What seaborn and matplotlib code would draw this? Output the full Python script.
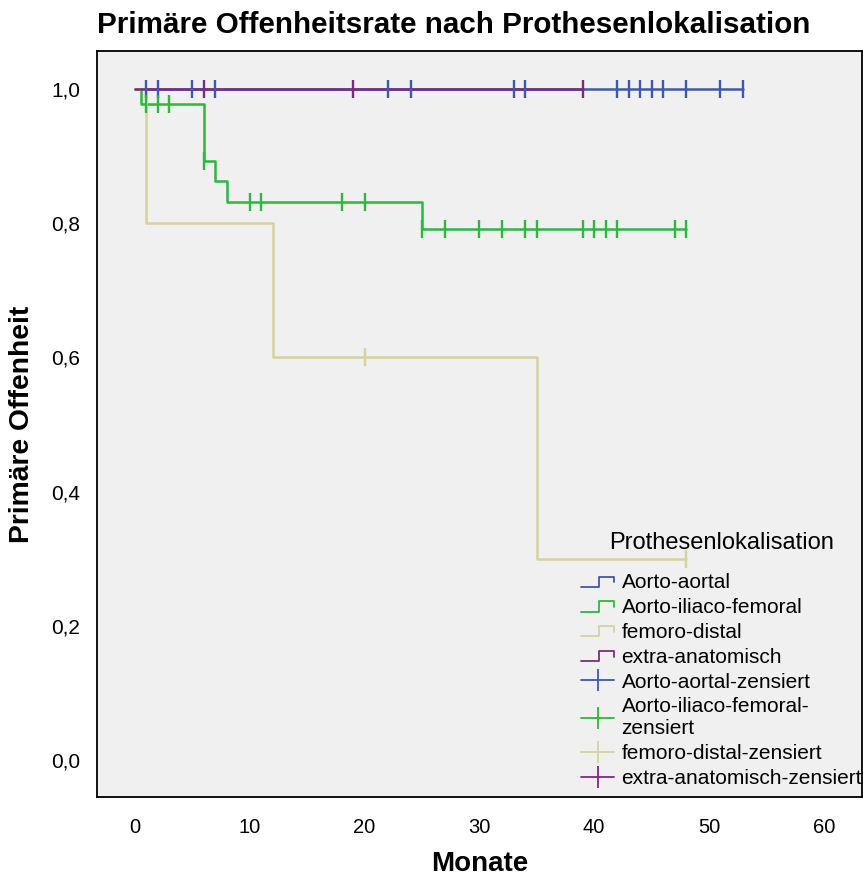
import numpy as np
import pandas as pd
import matplotlib
matplotlib.use("Agg")
import matplotlib.pyplot as plt
import seaborn as sns
from matplotlib.lines import Line2D
from matplotlib.legend_handler import HandlerBase

sns.set_style("white")
plt.rcParams["font.family"] = ["Liberation Sans", "DejaVu Sans"]
plt.rcParams["text.color"] = "black"
plt.rcParams["axes.labelcolor"] = "black"
plt.rcParams["xtick.color"] = "black"
plt.rcParams["ytick.color"] = "black"

# ---- data ----
groups = ["Aorto-aortal", "Aorto-iliaco-femoral", "femoro-distal", "extra-anatomisch"]
colors = ["#3e58ac", "#2db83d", "#d6d29c", "#7b2a80"]

aa_step_t = [0]
aa_step_s = [1.0]
aa_end = 53
aa_cens = [1, 2, 5, 7, 22, 24, 33, 34, 42, 43, 44, 45, 46, 48, 51, 53]

aif_step_t = [0, 0.5, 6, 7, 8, 25]
aif_step_s = [1.0, 0.977, 0.893, 0.863, 0.832, 0.792]
aif_end = 48
aif_cens = [1, 2, 3, 6, 10, 11, 18, 20, 25, 27, 30, 32, 34, 35, 39, 40, 41, 42, 47, 48]

fd_step_t = [0, 1, 12, 35]
fd_step_s = [1.0, 0.8, 0.6, 0.3]
fd_end = 48
fd_cens = [20, 48]

ea_step_t = [0]
ea_step_s = [1.0]
ea_end = 39
ea_cens = [6, 19, 39]

x_ticks = [0, 10, 20, 30, 40, 50, 60]
y_ticks = [0.0, 0.2, 0.4, 0.6, 0.8, 1.0]
y_tick_labels = ["0,0", "0,2", "0,4", "0,6", "0,8", "1,0"]

legend_labels = [
    "Aorto-aortal", "Aorto-iliaco-femoral", "femoro-distal", "extra-anatomisch",
    "Aorto-aortal-zensiert", "Aorto-iliaco-femoral-\nzensiert",
    "femoro-distal-zensiert", "extra-anatomisch-zensiert",
]

series = [
    (aa_step_t, aa_step_s, aa_end, aa_cens),
    (aif_step_t, aif_step_s, aif_end, aif_cens),
    (fd_step_t, fd_step_s, fd_end, fd_cens),
    (ea_step_t, ea_step_s, ea_end, ea_cens),
]

line_rows, cens_rows = [], []
for g, (st, ss, end, cens) in zip(groups, series):
    for t, s in zip(list(st) + [end], list(ss) + [ss[-1]]):
        line_rows.append({"t": t, "s": s, "g": g})
    st_arr = np.asarray(st, dtype=float)
    for c in cens:
        idx = np.searchsorted(st_arr, c, side="right") - 1
        cens_rows.append({"t": c, "s": ss[idx], "g": g})
line_df = pd.DataFrame(line_rows)
cens_df = pd.DataFrame(cens_rows)

# ---- figure ----
fig = plt.figure(figsize=(8.63, 8.8), dpi=100)
fig.patch.set_facecolor("white")
ax = fig.add_axes([97 / 863, 1 - 797 / 880, (862 - 97) / 863, (797 - 51) / 880])
ax.set_facecolor("#f0f0f0")

pal = dict(zip(groups, colors))
sns.lineplot(data=line_df, x="t", y="s", hue="g", hue_order=groups, palette=pal,
             drawstyle="steps-post", estimator=None, sort=False, legend=False,
             linewidth=1.8, ax=ax)
sns.scatterplot(data=cens_df, x="t", y="s", hue="g", hue_order=groups, palette=pal,
                marker="|", s=170, linewidth=1.7, legend=False, zorder=3, ax=ax)

ax.set_xlim(-3.31, 63.33)
ax.set_ylim(-0.0551, 1.0566)
ax.set_xticks(x_ticks)
ax.set_xticklabels([str(v) for v in x_ticks])
ax.set_yticks(y_ticks)
ax.set_yticklabels(y_tick_labels)
ax.tick_params(axis="both", which="major", direction="out", length=8, width=1.5,
               color="black", labelcolor="black", pad=4)
ax.tick_params(axis="x", pad=7, labelsize=14.5)
ax.tick_params(axis="y", labelsize=15)
for sp in ax.spines.values():
    sp.set_visible(True)
    sp.set_color("black")
    sp.set_linewidth(1.3)

ax.set_xlabel("Monate", fontsize=20, fontweight="bold", labelpad=10)
ax.set_ylabel("Primäre Offenheit", fontsize=20.3, fontweight="bold", labelpad=12)
ax.set_title("Primäre Offenheitsrate nach Prothesenlokalisation", loc="left",
             fontsize=21.3, fontweight="bold", pad=13)


class StepHandler(HandlerBase):
    def create_artists(self, legend, orig_handle, xdescent, ydescent, width,
                       height, fontsize, trans):
        x0, y0 = -xdescent, -ydescent
        xs = [x0, x0 + 0.55 * width, x0 + 0.55 * width, x0 + width, x0 + width]
        ys = [y0 + 0.1 * height, y0 + 0.1 * height, y0 + 0.8 * height,
              y0 + 0.8 * height, y0 + 0.4 * height]
        ln = Line2D(xs, ys, color=orig_handle.get_color(), lw=1.3)
        ln.set_transform(trans)
        return [ln]


step_handles = [Line2D([], [], color=c, lw=1.3) for c in colors]
cross_handles = [Line2D([], [], color=c, lw=1.3, marker="|", markersize=16,
                        markeredgewidth=1.3) for c in colors]
handler_map = {h: StepHandler() for h in step_handles}
leg = ax.legend(step_handles + cross_handles, legend_labels,
                handler_map=handler_map, title="Prothesenlokalisation",
                loc="lower right", bbox_to_anchor=(1.0, 0.012), frameon=False,
                fontsize=15, title_fontsize=17, handlelength=1.6,
                handletextpad=0.35, labelspacing=0.28, borderaxespad=0,
                borderpad=0, numpoints=1)
leg._legend_box.sep = 14

fig.savefig("out.png", dpi=100, facecolor="white")
